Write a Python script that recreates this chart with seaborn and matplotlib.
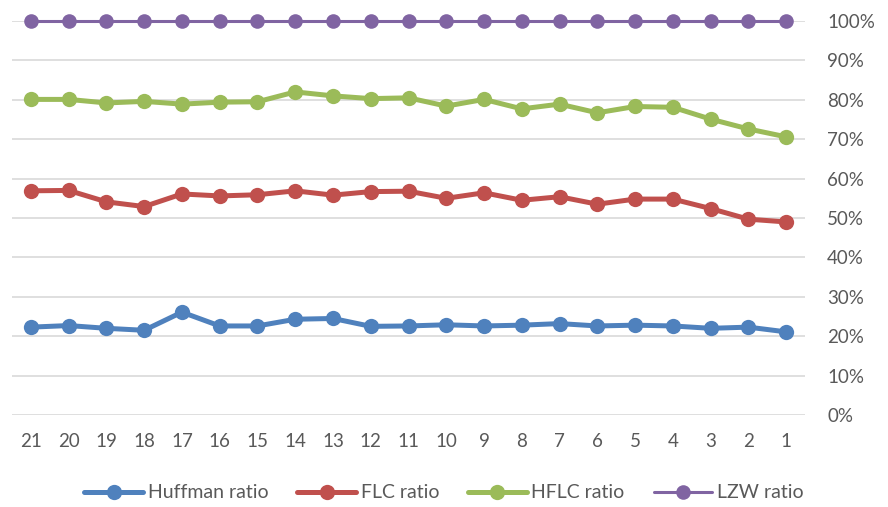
import seaborn as sns
import matplotlib.pyplot as plt
from matplotlib.ticker import PercentFormatter
import pandas as pd

# x axis runs from 21 down to 1
labels = ["21", "20", "19", "18", "17", "16", "15", "14", "13", "12", "11",
          "10", "9", "8", "7", "6", "5", "4", "3", "2", "1"]

huffman_ratio = [0.223, 0.227, 0.220, 0.215, 0.261, 0.226, 0.226, 0.243, 0.245, 0.225, 0.226,
                 0.229, 0.226, 0.228, 0.232, 0.226, 0.228, 0.226, 0.220, 0.223, 0.211]
flc_ratio = [0.569, 0.570, 0.541, 0.529, 0.561, 0.556, 0.559, 0.569, 0.558, 0.567, 0.568,
             0.550, 0.564, 0.545, 0.554, 0.535, 0.548, 0.548, 0.524, 0.497, 0.490]
hflc_ratio = [0.801, 0.801, 0.792, 0.796, 0.789, 0.794, 0.795, 0.820, 0.810, 0.803, 0.805,
              0.784, 0.801, 0.777, 0.789, 0.767, 0.783, 0.781, 0.751, 0.726, 0.706]
lzw_ratio = [1.0] * 21

series = ["Huffman ratio", "FLC ratio", "HFLC ratio", "LZW ratio"]
values = [huffman_ratio, flc_ratio, hflc_ratio, lzw_ratio]

palette = {
    "Huffman ratio": "#4F81BD",
    "FLC ratio": "#C0504D",
    "HFLC ratio": "#9BBB59",
    "LZW ratio": "#8064A2",
}
line_w = {"Huffman ratio": 3.6, "FLC ratio": 3.6, "HFLC ratio": 3.6, "LZW ratio": 2.2}
mark_s = {"Huffman ratio": 11, "FLC ratio": 11, "HFLC ratio": 11, "LZW ratio": 10.5}

df = pd.DataFrame({
    "name": [s for s in series for _ in labels],
    "x": labels * len(series),
    "ratio": [v for vals in values for v in vals],
})

sns.set_style("white")
plt.rcParams['font.family'] = ['Lato', 'DejaVu Sans']

fig = plt.figure(figsize=(8.88, 5.07), dpi=100)
ax = fig.add_axes([12 / 888, 1 - 415 / 507, (805 - 12) / 888, (415 - 21) / 507])

for s in series:
    sns.lineplot(
        data=df[df["name"] == s],
        x="x",
        y="ratio",
        sort=False,
        color=palette[s],
        linewidth=line_w[s],
        marker="o",
        markersize=mark_s[s],
        markeredgewidth=0,
        clip_on=False,
        label=s,
        ax=ax,
    )

ax.set_xlim(-0.5, len(labels) - 0.5)
ax.set_ylim(0, 1)
ax.set_yticks([i / 10 for i in range(11)])
ax.yaxis.set_major_formatter(PercentFormatter(1, decimals=0))
ax.yaxis.tick_right()
ax.yaxis.grid(True, color="#D9D9D9", linewidth=1.2)
ax.xaxis.grid(False)
ax.set_axisbelow(True)
for sp in ax.spines.values():
    sp.set_visible(False)
ax.tick_params(axis="y", length=0, pad=16, labelsize=13.5, labelcolor="#595959")
ax.tick_params(axis="x", length=0, pad=13, labelsize=13.5, labelcolor="#595959")
ax.set_xlabel("")
ax.set_ylabel("")

handles, names = ax.get_legend_handles_labels()
ax.get_legend().remove()
fig.legend(
    handles, names,
    loc="center",
    bbox_to_anchor=(0.5, 1 - 493 / 507),
    ncol=4,
    frameon=False,
    fontsize=14,
    labelcolor="#595959",
    handlelength=3.0,
    handletextpad=0.25,
    columnspacing=1.5,
)

fig.savefig("out.png", dpi=100)
